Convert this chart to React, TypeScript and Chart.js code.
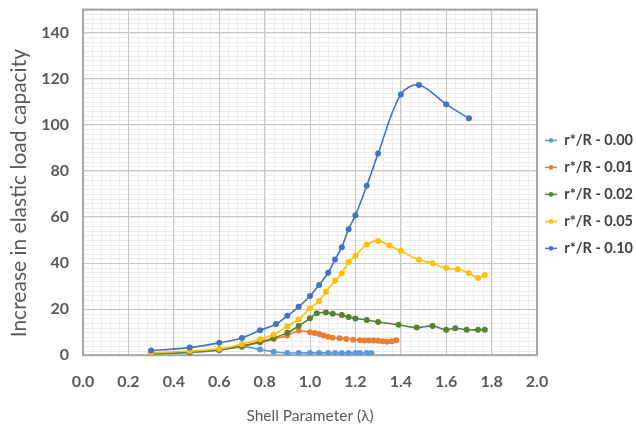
import React, { useEffect, useRef } from 'react';
import { Chart, registerables } from 'chart.js';

Chart.register(...registerables);

const seriesNames = ['r*/R - 0.00', 'r*/R - 0.01', 'r*/R - 0.02', 'r*/R - 0.05', 'r*/R - 0.10'];
const seriesColors = ['#5B9BD5', '#ED7D31', '#548235', '#FFC000', '#4472C4'];

const lambda000 = [0.3, 0.47, 0.6, 0.7, 0.78, 0.84, 0.9, 0.95, 1.0, 1.04, 1.08, 1.11, 1.14, 1.17, 1.2, 1.22, 1.25, 1.27];
const value000 = [0.5, 1.2, 2.2, 3.6, 2.5, 1.5, 1.0, 1.0, 1.0, 1.0, 1.0, 1.0, 1.0, 1.0, 1.0, 1.0, 1.0, 1.0];

const lambda001 = [0.3, 0.47, 0.6, 0.7, 0.78, 0.84, 0.9, 0.95, 1.0, 1.02, 1.04, 1.06, 1.08, 1.1, 1.13, 1.16, 1.19, 1.22, 1.24, 1.26, 1.28, 1.3, 1.32, 1.34, 1.36, 1.38];
const value001 = [0.8, 1.5, 2.5, 3.8, 5.5, 7.0, 8.6, 10.6, 10.0, 9.6, 9.2, 8.6, 8.0, 7.6, 7.4, 7.0, 6.7, 6.5, 6.4, 6.4, 6.4, 6.3, 6.1, 5.8, 6.1, 6.5];

const lambda002 = [0.3, 0.47, 0.6, 0.7, 0.78, 0.84, 0.9, 0.95, 1.0, 1.03, 1.07, 1.1, 1.14, 1.17, 1.2, 1.25, 1.3, 1.39, 1.47, 1.54, 1.6, 1.64, 1.69, 1.74, 1.77];
const value002 = [0.6, 1.3, 2.4, 4.0, 5.8, 7.5, 9.7, 12.7, 16.0, 18.2, 18.5, 18.0, 17.4, 16.6, 15.9, 15.3, 14.4, 13.2, 12.0, 12.7, 11.0, 11.7, 11.0, 11.0, 11.0];

const lambda005 = [0.3, 0.47, 0.6, 0.7, 0.78, 0.84, 0.9, 0.95, 1.0, 1.04, 1.07, 1.11, 1.14, 1.17, 1.2, 1.25, 1.3, 1.35, 1.4, 1.48, 1.54, 1.6, 1.65, 1.7, 1.74, 1.77];
const value005 = [1.0, 1.8, 2.8, 4.8, 6.9, 9.0, 12.5, 15.5, 20.4, 23.5, 27.5, 32.3, 35.6, 40.4, 43.2, 48.0, 49.6, 47.6, 45.2, 41.4, 39.9, 37.8, 37.3, 35.7, 33.5, 34.8];

const lambda010 = [0.3, 0.47, 0.6, 0.7, 0.78, 0.85, 0.9, 0.95, 1.0, 1.04, 1.08, 1.11, 1.14, 1.17, 1.2, 1.25, 1.3, 1.4, 1.48, 1.6, 1.7];
const value010 = [2.0, 3.3, 5.4, 7.5, 10.8, 13.5, 17.1, 21.0, 25.7, 30.5, 35.8, 41.5, 46.9, 54.7, 60.7, 73.5, 87.5, 113.2, 117.3, 108.9, 102.8];

const xTickValues = [0, 0.2, 0.4, 0.6, 0.8, 1.0, 1.2, 1.4, 1.6, 1.8, 2.0];
const yTickValues = [0, 20, 40, 60, 80, 100, 120, 140];
const xMinorStep = 0.04;
const yMinorStep = 2;
const xMax = 2.0;
const yMax = 150;

const xTitle = 'Shell Parameter (\u03bb)';
const yTitle = 'Increase in elastic load capacity    ';

const allLambdas = [lambda000, lambda001, lambda002, lambda005, lambda010];
const allValues = [value000, value001, value002, value005, value010];

const LEGEND_BOX_W = 12;

const decor = {
  id: 'decor',
  afterLayout(chart: any) {
    const lg = chart.legend;
    if (lg) {
      lg.top += 12;
      lg.bottom += 12;
    }
  },
  beforeDraw(chart: any) {
    const { ctx, chartArea, scales } = chart;
    ctx.save();
    ctx.fillStyle = '#ffffff';
    ctx.fillRect(0, 0, chart.width, chart.height);
    ctx.strokeStyle = '#ececec';
    ctx.lineWidth = 1;
    const xs = scales.x;
    const ys = scales.y;
    for (let i = 0; i * xMinorStep <= xMax + 1e-9; i++) {
      const px = Math.round(xs.getPixelForValue(i * xMinorStep)) + 0.5;
      ctx.beginPath();
      ctx.moveTo(px, chartArea.top);
      ctx.lineTo(px, chartArea.bottom);
      ctx.stroke();
    }
    for (let i = 0; i * yMinorStep <= yMax + 1e-9; i++) {
      const py = Math.round(ys.getPixelForValue(i * yMinorStep)) + 0.5;
      ctx.beginPath();
      ctx.moveTo(chartArea.left, py);
      ctx.lineTo(chartArea.right, py);
      ctx.stroke();
    }
    ctx.restore();
  },
  beforeDatasetsDraw(chart: any) {
    const { ctx, chartArea } = chart;
    ctx.save();
    ctx.strokeStyle = '#a6a6a6';
    ctx.lineWidth = 2;
    ctx.strokeRect(chartArea.left, chartArea.top, chartArea.right - chartArea.left, chartArea.bottom - chartArea.top);
    ctx.restore();
  },
  afterDraw(chart: any) {
    const lg = chart.legend;
    if (!lg || !lg.legendHitBoxes) return;
    const { ctx } = chart;
    ctx.save();
    lg.legendHitBoxes.forEach((hb: any, i: number) => {
      const color = seriesColors[i];
      const y = hb.top + hb.height / 2;
      ctx.strokeStyle = color;
      ctx.lineWidth = 1.5;
      ctx.beginPath();
      ctx.moveTo(hb.left, y);
      ctx.lineTo(hb.left + LEGEND_BOX_W, y);
      ctx.stroke();
      ctx.fillStyle = color;
      ctx.beginPath();
      ctx.arc(hb.left + LEGEND_BOX_W / 2, y, 2.3, 0, Math.PI * 2);
      ctx.fill();
    });
    ctx.restore();
  },
};

export default function App() {
  const ref = useRef<HTMLCanvasElement | null>(null);

  useEffect(() => {
    if (!ref.current) return;
    const datasets = seriesNames.map((name, i) => ({
      label: name,
      data: allLambdas[i].map((x, j) => ({ x, y: allValues[i][j] })),
      borderColor: seriesColors[i],
      backgroundColor: seriesColors[i],
      pointBackgroundColor: seriesColors[i],
      pointBorderColor: seriesColors[i],
      borderWidth: 1.6,
      pointRadius: 3,
      pointBorderWidth: 0,
      tension: 0.35,
      fill: false,
      order: seriesNames.length - i,
    }));

    const font = "Lato, 'Open Sans', sans-serif";

    const chart = new Chart(ref.current, {
      type: 'line',
      data: { datasets },
      plugins: [decor],
      options: {
        animation: false,
        responsive: false,
        maintainAspectRatio: false,
        layout: { padding: { left: -2, right: 0, top: 0, bottom: 4 } },
        plugins: {
          tooltip: { enabled: false },
          legend: {
            position: 'right',
            fullSize: false,
            maxWidth: 99,
            labels: {
              usePointStyle: false,
              boxWidth: LEGEND_BOX_W,
              boxHeight: 19,
              padding: 8,
              color: '#404040',
              font: { family: font, size: 14.5, weight: 'bold' },
              generateLabels: (chart: any) =>
                chart.data.datasets.map((ds: any, i: number) => ({
                  text: ds.label,
                  fillStyle: 'rgba(0,0,0,0)',
                  strokeStyle: 'rgba(0,0,0,0)',
                  lineWidth: 0,
                  datasetIndex: i,
                  hidden: false,
                  fontColor: '#404040',
                })),
            },
          },
        },
        scales: {
          x: {
            type: 'linear',
            min: 0,
            max: xMax,
            afterBuildTicks: (scale: any) => {
              scale.ticks = xTickValues.map((v) => ({ value: v }));
            },
            ticks: {
              color: '#595959',
              font: { family: font, size: 16, weight: 'bold' },
              padding: 17,
              maxRotation: 0,
              callback: (v: any) => Number(v).toFixed(1),
            },
            grid: { color: '#c6c6c6', lineWidth: 1, drawTicks: false },
            border: { display: false },
            title: {
              display: true,
              text: xTitle,
              color: '#595959',
              font: { family: font, size: 15.5 },
              padding: { top: -2, bottom: 1 },
            },
          },
          y: {
            type: 'linear',
            min: 0,
            max: yMax,
            afterBuildTicks: (scale: any) => {
              scale.ticks = [...yTickValues, yMax].map((v) => ({ value: v }));
            },
            ticks: {
              color: '#595959',
              font: { family: font, size: 16, weight: 'bold' },
              padding: 0,
              callback: (v: any) => (yTickValues.includes(Number(v)) ? String(v) : ''),
            },
            grid: {
              color: '#c6c6c6',
              lineWidth: 1,
              drawTicks: true,
              tickLength: 14,
              tickColor: 'rgba(0,0,0,0)',
            },
            border: { display: false },
            title: {
              display: true,
              text: yTitle,
              color: '#595959',
              font: { family: font, size: 21 },
              padding: { top: 9, bottom: 9 },
            },
          },
        },
      },
    } as any);
    return () => chart.destroy();
  }, []);

  return (
    <div style={{ position: 'fixed', left: 0, top: 0, width: 636, height: 430, background: '#fff' }}>
      <canvas ref={ref} width={636} height={430} style={{ display: 'block', width: 636, height: 430 }} />
    </div>
  );
}
